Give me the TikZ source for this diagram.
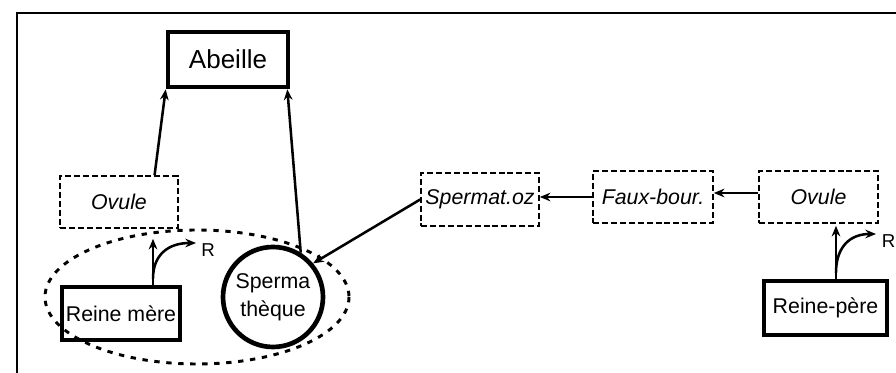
\documentclass[tikz,border=0pt]{standalone}
\usepackage{fontspec}
\setmainfont{Liberation Sans}
\usetikzlibrary{arrows.meta,calc}
\begin{document}
\begin{tikzpicture}[x=0.75pt,y=-0.75pt,
  txt/.style={font=\fontsize{16}{21}\selectfont},
  thickbox/.style={draw,line width=3.5pt,rectangle,inner sep=0pt,txt},
  dbox/.style={draw,line width=1.2pt,dash pattern=on 4.5pt off 2.2pt,rectangle,inner sep=0pt,font=\fontsize{16}{21}\selectfont\itshape},
  arr/.style={line width=1.9pt,-{Stealth[length=8pt,width=6.5pt]}},
  rlabel/.style={font=\fontsize{14}{16}\selectfont,inner sep=0pt}]
\useasboundingbox (0,0) rectangle (896,373);
% frame
\draw[line width=1.6pt] (17,380) -- (17,13) -- (910,13);
% nodes
\node[thickbox,minimum width=90pt,minimum height=41.25pt,font=\fontsize{19.5}{22}\selectfont] (abeille) at (228,59.5) {Abeille};
\node[dbox,minimum width=88.5pt,minimum height=39pt] (ovL) at (119,202) {Ovule};
\node[thickbox,minimum width=88.5pt,minimum height=39.75pt] (rm) at (121,313.5) {Reine mère};
\node[circle,draw,line width=3.5pt,minimum size=75pt,inner sep=0pt,align=center,txt] (sp) at (273,297) {Sperma\\thèque};
\node[dbox,minimum width=88.5pt,minimum height=39.75pt] (spoz) at (480,199.5) {Spermat.oz};
\node[dbox,minimum width=90pt,minimum height=39pt] (faux) at (653,197) {Faux-bour.};
\node[dbox,minimum width=89.25pt,minimum height=39pt] (ovR) at (818.5,197) {Ovule};
\node[thickbox,minimum width=92.25pt,minimum height=40.5pt] (rp) at (825.5,308) {Reine-père};
% dashed ellipse
\draw[line width=2.2pt,dash pattern=on 4pt off 5pt] (197,297) ellipse [x radius=152, y radius=67];
% connectors
\draw[arr] (ovL.37) -- (abeille.south west);
\draw[arr] (sp.58) -- ($(abeille.south east)+(-3,0)$);
\coordinate (rmtop) at ($(rm.north)+(32,0)$);
\draw[arr] (rmtop) -- ($(ovL.south)+(34,10)$);
\coordinate (rmR) at ($(rm.north)+(32,-6)$);
\coordinate (rmRend) at (196,243);
\draw[arr] (rmR) .. controls (153,255) and (168,243) .. (rmRend);
\node[rlabel] (rL) at (208,250) {R};
\draw[arr] (spoz.west) -- (sp.40);
\draw[arr] (faux.west) -- (faux.west -| spoz.east);
\draw[arr] ($(ovR.west)+(0,-4)$) -- ($(ovR.west -| faux.east)+(0,-4)$);
\coordinate (rptop) at ($(rp.north)+(10.5,0)$);
\draw[arr] (rptop) -- ($(ovR.south)+(17.5,2)$);
\coordinate (rpR) at ($(rp.north)+(10.5,-6)$);
\coordinate (rpRend) at (876,234);
\draw[arr] (rpR) .. controls (836,247) and (850,234) .. (rpRend);
\node[rlabel,anchor=west] (rR) at (881.5,241) {R};
\end{tikzpicture}
\end{document}
